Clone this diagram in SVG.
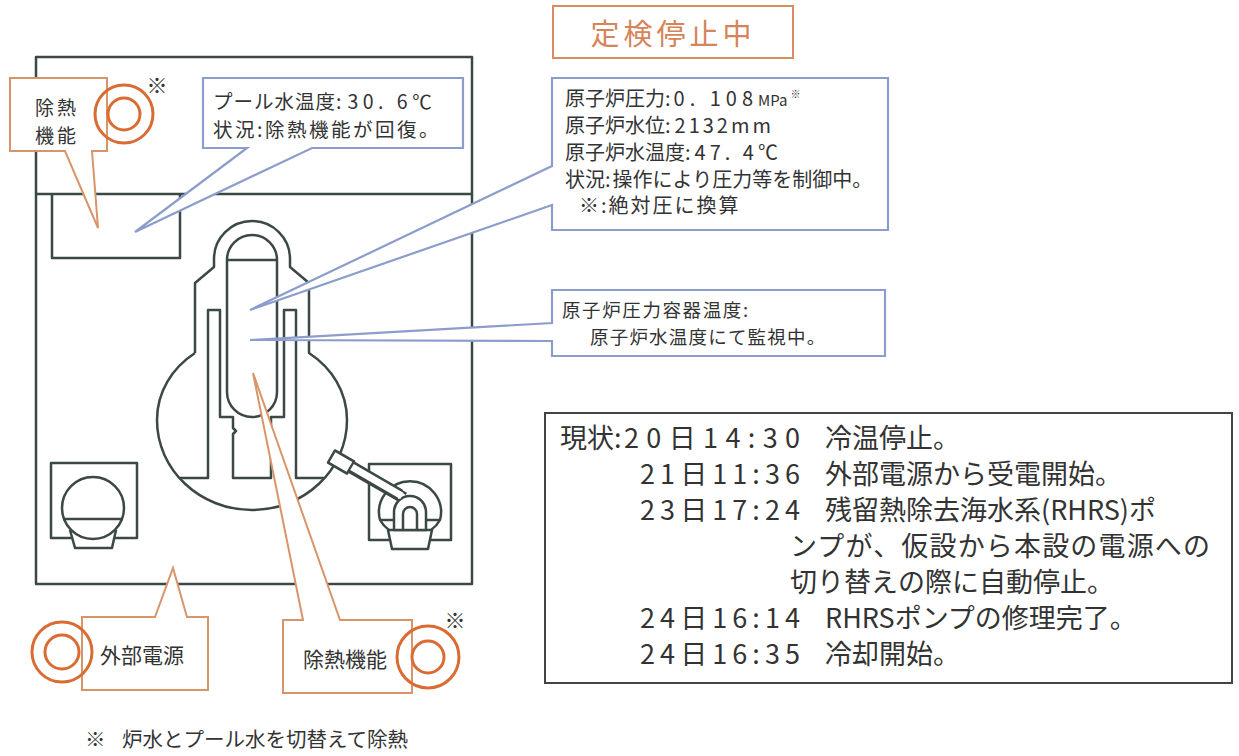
<svg xmlns="http://www.w3.org/2000/svg" width="1239" height="756" viewBox="0 0 1239 756">
<defs>
<style>
.ln{fill:none;stroke:#3b4845;stroke-width:2.5;stroke-linejoin:round}
.wf{fill:#fff;stroke:#3b4845;stroke-width:2.5;stroke-linejoin:round}
.co{fill:#fff;stroke:#d8956a;stroke-width:2}
.cb{fill:#fff;stroke:#8d9dcb;stroke-width:2.2}
.ring{fill:none;stroke:#d96c33;stroke-width:3}
.t{font-family:"Noto Sans CJK JP","Noto Sans CJK SC",sans-serif;fill:#333}
</style>
</defs>
<rect width="1239" height="756" fill="#fff"/>

<g id="building">
<rect class="ln" x="36" y="57" width="436" height="527"/>
<line class="ln" x1="36" y1="194" x2="472" y2="194"/>
<polyline class="ln" points="52,194 52,258 180,258 180,194"/>
</g>

<g id="reactor">
<path class="ln" d="M195,353 L195,283 L214,267 L214,259 A38,38 0 0 1 290,259 L290,267 L309,283 L309,353 C332,368 347,392 347,420 C347,470 304,510 252,510 C200,510 157,470 157,420 C157,392 172,368 195,353"/>
<polyline class="ln" points="180,478 208,478 208,310 220,310 220,417 233,417 233,428 236,431 233,434 233,478 271,478 271,417 284,417 284,310 296,310 296,478 324,478"/>
<path class="ln" d="M227,392 V260 A25,25 0 0 1 277,260 V392 A25,25 0 0 1 227,392 Z"/>
<line class="ln" x1="227" y1="260" x2="277" y2="260"/>
</g>

<g id="pump-left">
<rect class="ln" x="51" y="463" width="86" height="75"/>
<path class="wf" d="M70,530 L75,548 L112,548 L116,530"/>
<circle class="ln" cx="93" cy="508" r="31"/>
<line class="ln" x1="63" y1="519" x2="123" y2="519"/>
</g>

<g id="connectors">
<line x1="338" y1="460" x2="404" y2="498" stroke="#3b4845" stroke-width="12"/>
<line x1="338" y1="460" x2="404" y2="498" stroke="#fff" stroke-width="7"/>
<rect class="wf" x="330" y="455" width="22" height="14" transform="rotate(30 341 462)"/>
</g>

<g id="pump-right">
<rect class="ln" x="369" y="464" width="82" height="76"/>
<path class="wf" d="M388,530 L392,549 L428,549 L432,530 Z"/>
<path class="ln" d="M380,520 A31,31 0 1 1 440,520 M389,530 A31,31 0 0 1 380,520 M440,520 A31,31 0 0 1 431,530"/>
<line class="ln" x1="380" y1="520" x2="440" y2="520"/>
<path class="wf" d="M394,530 V512 A16,16 0 0 1 426,512 V530 Z"/>
<path class="ln" d="M403,530 V514 A7,7 0 0 1 417,514 V530"/>
<line x1="352" y1="467" x2="400" y2="495" stroke="#3b4845" stroke-width="12"/>
<line x1="352" y1="467" x2="402" y2="496" stroke="#fff" stroke-width="7"/>
</g>

<g id="title">
<rect x="553" y="6" width="240" height="52" fill="#fff" stroke="#d98c62" stroke-width="2"/>
<text x="673" y="45" text-anchor="middle" font-family="Noto Sans CJK JP, sans-serif" font-size="29" letter-spacing="4" fill="#d6845a">定検停止中</text>
</g>

<g id="callout-pool-heat">
<path class="co" d="M10,78 L107,78 L107,151 L92,151 L98,228 L65,151 L10,151 Z"/>
<text class="t" font-size="19" letter-spacing="3"><tspan x="35" y="115">除熱</tspan><tspan x="35" y="143">機能</tspan></text>
</g>

<g id="callout-pool-temp">
<path class="cb" d="M203,78 L463,78 L463,148 L312,148 L135,232 L247,148 L203,148 Z"/>
<text class="t" font-size="19.5"><tspan x="213" y="109" letter-spacing="1">プール水温度:<tspan dx="5" letter-spacing="4.5">30. 6℃</tspan></tspan><tspan x="213" y="137" letter-spacing="2.5">状況:除熱機能が回復。</tspan></text>
</g>

<g id="callout-reactor">
<path class="cb" d="M552,78 L888,78 L888,230 L552,230 L552,205 L250,310 L552,166 Z"/>
<text class="t" font-size="20"><tspan x="565" y="106">原子炉圧力:<tspan dx="3" letter-spacing="5">0. 108</tspan><tspan font-size="15">MPa</tspan><tspan dx="3" dy="-8" font-size="10">※</tspan></tspan><tspan x="565" y="133">原子炉水位:<tspan dx="4" letter-spacing="3">2132mm</tspan></tspan><tspan x="565" y="160">原子炉水温度:<tspan dx="4" letter-spacing="4">47. 4℃</tspan></tspan><tspan x="565" y="187">状況:<tspan dx="2">操作により圧力等を制御中。</tspan></tspan><tspan x="579" y="213" letter-spacing="2">※:絶対圧に換算</tspan></text>
</g>

<g id="callout-vessel">
<path class="cb" d="M552,290 L885,290 L885,356 L552,356 L552,341 L250,340 L552,323 Z"/>
<text class="t" font-size="18.5"><tspan x="562" y="317" letter-spacing="1.6">原子炉圧力容器温度:</tspan><tspan x="590" y="344" letter-spacing="1.2">原子炉水温度にて監視中。</tspan></text>
</g>

<g id="callout-power">
<path class="co" d="M82,617 L155,617 L173,568 L187,617 L208,617 L208,690 L82,690 Z"/>
<text class="t" x="100" y="663" font-size="21">外部電源</text>
</g>

<g id="callout-heat">
<path class="co" d="M283,620 L303,620 L253,373 L340,620 L412,620 L412,693 L283,693 Z"/>
<text class="t" x="303" y="667" font-size="21">除熱機能</text>
</g>

<g id="rings">
<circle class="ring" cx="124" cy="114" r="29"/>
<circle class="ring" cx="124" cy="114" r="16"/>
<circle class="ring" cx="62" cy="652" r="30"/>
<circle class="ring" cx="62" cy="652" r="17"/>
<circle class="ring" cx="428" cy="657" r="31"/>
<circle class="ring" cx="428" cy="657" r="16"/>
<text class="t" x="157" y="93" font-size="21" text-anchor="middle">※</text>
<text class="t" x="455" y="628" font-size="21" text-anchor="middle">※</text>
</g>

<g id="status">
<rect x="545" y="413" width="687" height="270" fill="#fff" stroke="#444" stroke-width="2"/>
<text class="t" font-size="27">
<tspan x="560" y="448">現状:</tspan>
<tspan x="624" y="448" textLength="176" lengthAdjust="spacing">20日14:30</tspan>
<tspan x="825" y="448">冷温停止。</tspan>
<tspan x="640" y="484" textLength="160" lengthAdjust="spacing">21日11:36</tspan>
<tspan x="825" y="484">外部電源から受電開始。</tspan>
<tspan x="640" y="520" textLength="160" lengthAdjust="spacing">23日17:24</tspan>
<tspan x="825" y="520">残留熱除去海水系(RHRS)ポ</tspan>
<tspan x="790" y="556" textLength="420" lengthAdjust="spacing">ンプが、仮設から本設の電源への</tspan>
<tspan x="790" y="592">切り替えの際に自動停止。</tspan>
<tspan x="640" y="628" textLength="160" lengthAdjust="spacing">24日16:14</tspan>
<tspan x="825" y="628">RHRSポンプの修理完了。</tspan>
<tspan x="640" y="664" textLength="160" lengthAdjust="spacing">24日16:35</tspan>
<tspan x="825" y="664">冷却開始。</tspan>
</text>
</g>

<g id="footnote">
<text class="t" font-size="20.5"><tspan x="85" y="747">※</tspan><tspan x="122" y="747">炉水とプール水を切替えて除熱</tspan></text>
</g>
</svg>
